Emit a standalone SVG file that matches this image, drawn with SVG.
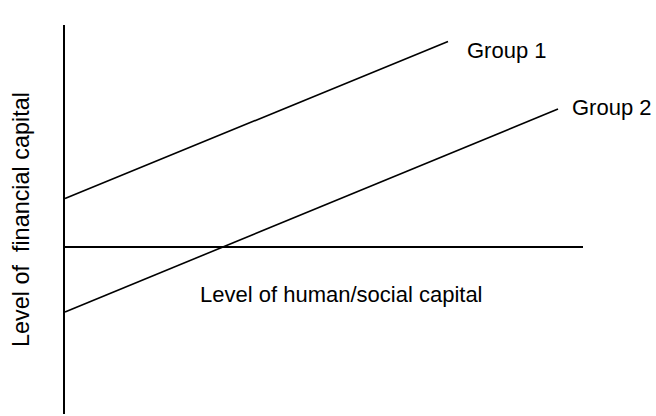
<svg xmlns="http://www.w3.org/2000/svg" width="656" height="416" viewBox="0 0 656 416">
<style>
.ax{stroke:#000;stroke-width:2;fill:none}
.ln{stroke:#000;stroke-width:1.6;fill:none}
text{font-family:"Liberation Sans",Arial,sans-serif;font-size:22px;fill:#000}
</style>
<rect width="656" height="416" fill="#fff"/>
<g id="connectors">
<line class="ax" x1="64" y1="25" x2="64" y2="414"/>
<line class="ax" x1="64" y1="247" x2="583" y2="247"/>
<line class="ln" x1="65" y1="198.5" x2="448" y2="41.5"/>
<line class="ln" x1="65" y1="312" x2="558" y2="109"/>
</g>
<g id="group1"><text x="467" y="58">Group 1</text></g>
<g id="group2"><text x="572" y="115">Group 2</text></g>
<g id="xlabel"><text x="200" y="302">Level of human/social capital</text></g>
<g id="ylabel"><text xml:space="preserve" style="font-size:23.4px" transform="translate(28.5,347) rotate(-90)">Level of  financial capital</text></g>
</svg>
